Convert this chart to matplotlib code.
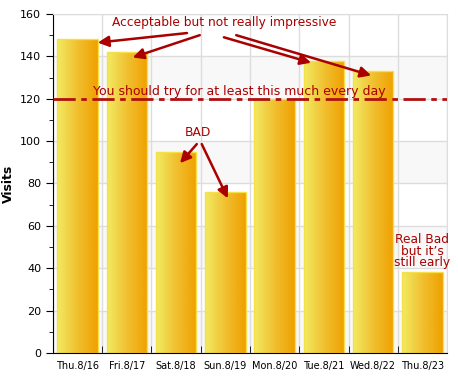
import numpy as np
import matplotlib.pyplot as plt
from matplotlib.ticker import MultipleLocator
from matplotlib.colors import LinearSegmentedColormap

days = ['Thu.8/16', 'Fri.8/17', 'Sat.8/18', 'Sun.8/19', 'Mon.8/20', 'Tue.8/21', 'Wed.8/22', 'Thu.8/23']
visits = [148, 142, 95, 76, 120, 138, 133, 38]
target = 120

red = '#aa0000'
plt.rcParams['font.family'] = ['DejaVu Sans']

fig = plt.figure(figsize=(4.58, 3.79), dpi=100)
ax = fig.add_axes([0.1157, 0.0686, 0.8603, 0.8945])
ax.set_axisbelow(True)

x = np.arange(len(days))

# alternating bands
for lo in range(0, 160, 40):
    ax.axhspan(lo, lo + 20, color='#f8f8f8', zorder=0, lw=0)

ax.yaxis.set_major_locator(MultipleLocator(20))
ax.yaxis.set_minor_locator(MultipleLocator(10))
ax.set_xticks(x)
ax.set_xticklabels(days, fontsize=7)
ax.set_xticks(np.arange(-0.5, len(days)), minor=True)
ax.tick_params(axis='x', which='major', length=0, pad=6)
ax.tick_params(axis='x', which='minor', length=5, direction='in', color='black')
ax.tick_params(axis='y', which='major', length=5, labelsize=8)
ax.tick_params(axis='y', which='minor', length=3)
ax.grid(True, axis='y', which='major', color='#dddddd', lw=1)
ax.grid(True, axis='x', which='minor', color='#dddddd', lw=1)
for s in ['top', 'right']:
    ax.spines[s].set_color('#dddddd')
ax.set_ylabel('Visits', fontsize=9, fontweight='bold')

# gradient bars
grad = np.linspace(0, 1, 100).reshape(1, -1)
cmap = LinearSegmentedColormap.from_list('yo', ['#f2ea62', '#f0c030', '#f0a000'])
bars = ax.bar(x, visits, width=0.82, color='none', edgecolor='#f5e04a', lw=1, zorder=2)
for b in bars:
    x0, y0, w, h = b.get_x(), b.get_y(), b.get_width(), b.get_height()
    im = ax.imshow(grad, cmap=cmap, aspect='auto', extent=[x0, x0 + w, y0, y0 + h], zorder=1.5)
    im.set_clip_path(b)
ax.set_xlim(-0.5, len(days) - 0.5)
ax.set_ylim(0, 160)

# target line
ax.axhline(target, color='#b01010', lw=2, dashes=[8, 2, 2, 2], zorder=3)
ax.text(3.28, target + 0.3, 'You should try for at least this much every day', color=red,
        fontsize=9, ha='center', va='bottom', zorder=4)

arrow = dict(arrowstyle='-|>', color=red, lw=1.8, mutation_scale=16, shrinkA=0, shrinkB=0)
ax.text(2.97, 156, 'Acceptable but not really impressive', color=red, fontsize=8.8,
        ha='center', va='center', zorder=4)
ax.annotate('', xy=(0.41, 146.5), xytext=(2.22, 151), arrowprops=arrow, zorder=4)
ax.annotate('', xy=(1.12, 139.5), xytext=(2.48, 150), arrowprops=arrow, zorder=4)
ax.annotate('', xy=(4.74, 137), xytext=(2.97, 149), arrowprops=arrow, zorder=4)
ax.annotate('', xy=(5.96, 131), xytext=(3.22, 150), arrowprops=arrow, zorder=4)

ax.text(2.44, 104, 'BAD', color=red, fontsize=8.8, ha='center', va='center', zorder=4)
ax.annotate('', xy=(2.08, 89.6), xytext=(2.42, 98.6), arrowprops=arrow, zorder=4)
ax.annotate('', xy=(3.05, 73), xytext=(2.52, 98.6), arrowprops=arrow, zorder=4)

ax.text(7, visits[7] + 1.5, "Real Bad\nbut it\u2019s\nstill early", color=red, fontsize=8.8,
        ha='center', va='bottom', linespacing=0.85, zorder=4)

fig.savefig('out.png', dpi=100)
